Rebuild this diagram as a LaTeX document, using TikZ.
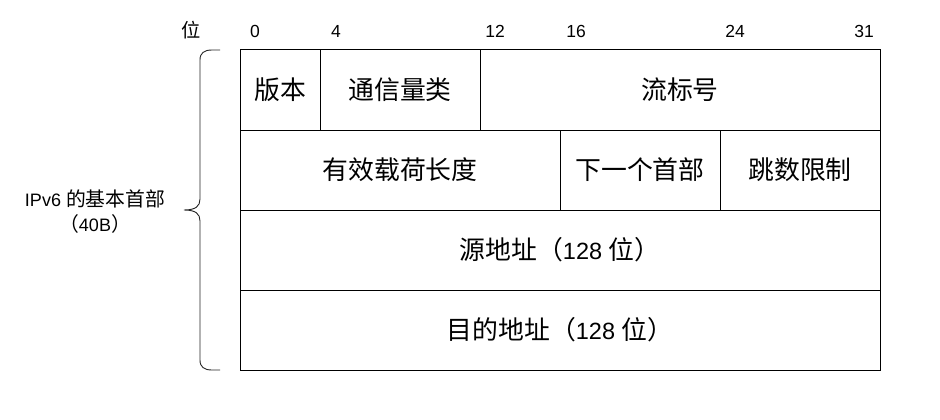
\documentclass[tikz,border=0pt]{standalone}
\usepackage{fontspec}
\setmainfont{Liberation Sans}
\newfontfamily\cjk[Scale=1.1]{Noto Sans CJK SC}
\newcommand\zh[1]{{\cjk #1}}
\begin{document}
\begin{tikzpicture}[x=1pt,y=-1pt,
  cell/.style={draw=black, line width=1pt, anchor=north west, inner sep=0pt, outer sep=0pt,
    minimum height=80pt, font=\fontsize{23.5}{27}\selectfont},
  bitlbl/.style={anchor=base, inner sep=0pt, font=\fontsize{17.5}{20}\selectfont},
  sidelbl/.style={align=center, inner sep=0pt, font=\fontsize{18}{25}\selectfont},
  bracepath/.style={draw=black!85, line width=0.9pt}]
\useasboundingbox (0,0) rectangle (940,420);
\fill[white] (0,0) rectangle (940,420);
% bit labels
\node[bitlbl] (w) at (191,38) {\zh{位}};
\node[bitlbl] (b0) at (255,38) {0};
\node[bitlbl] (b4) at (336,38) {4};
\node[bitlbl] (b12) at (495,38) {12};
\node[bitlbl] (b16) at (576,38) {16};
\node[bitlbl] (b24) at (735,38) {24};
\node[bitlbl] (b31) at (864,38) {31};
% cells
\node[cell, minimum width=80pt] (ver) at (240,50) {\zh{版本}};
\node[cell, minimum width=160pt] (tc) at (320,50) {\zh{通信量类}};
\node[cell, minimum width=400pt] (fl) at (480,50) {\zh{流标号}};
\node[cell, minimum width=320pt] (pl) at (240,130) {\zh{有效载荷长度}};
\node[cell, minimum width=160pt] (nh) at (560,130) {\zh{下一个首部}};
\node[cell, minimum width=160pt] (hl) at (720,130) {\zh{跳数限制}};
\node[cell, minimum width=640pt] (src) at (240,210) {\zh{源地址（}128 \zh{位）}};
\node[cell, minimum width=640pt] (dst) at (240,290) {\zh{目的地址（}128 \zh{位）}};
% side label
\node[sidelbl] (hdr) at (95,212) {IPv6 \zh{的基本首部}\\\zh{（}40B\zh{）}};
% brace
\coordinate (btop) at (220,50);
\coordinate (bbot) at (220,370);
\coordinate (btip) at (184,210);
\draw[bracepath] (btop) -- (212,50) .. controls (204,50) and (200,53) .. (200,60)
  -- (200,199) .. controls (200,206) and (196,210) .. (btip)
  .. controls (196,210) and (200,214) .. (200,221)
  -- (200,360) .. controls (200,367) and (204,370) .. (212,370) -- (bbot);
\end{tikzpicture}
\end{document}
